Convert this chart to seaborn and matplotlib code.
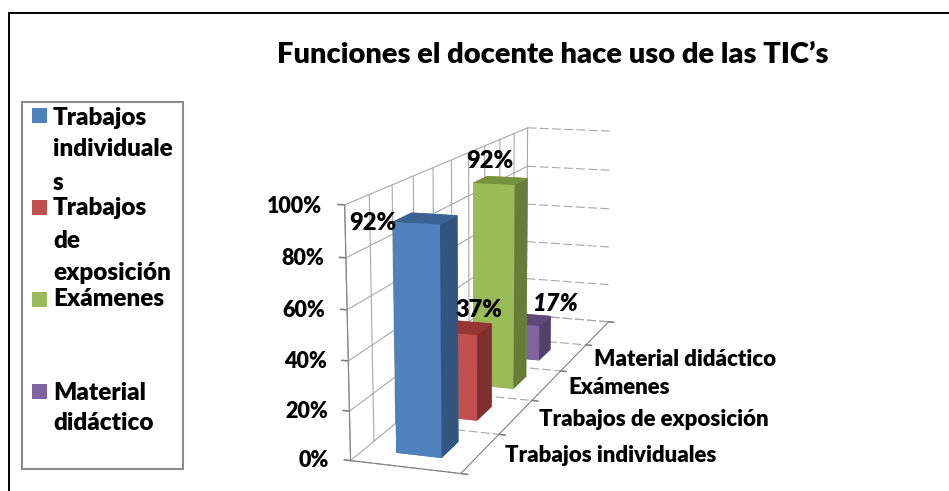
import numpy as np
import seaborn as sns
import matplotlib
matplotlib.use("Agg")
import matplotlib.pyplot as plt
from matplotlib.patches import Rectangle
from matplotlib.lines import Line2D
from mpl_toolkits.mplot3d import proj3d

title = "Funciones el docente hace uso de las TIC’s"
categories = ["Trabajos individuales", "Trabajos de exposición", "Exámenes", "Material didáctico"]
legend_lines = [["Trabajos", "individuale", "s"], ["Trabajos", "de", "exposición"], ["Exámenes"], ["Material", "didáctico"]]
values = [92, 37, 92, 17]
value_ticks = [0, 20, 40, 60, 80, 100]
front_colors = ["#4F81BD", "#C0504D", "#9BBB59", "#8064A2"]
side_colors = ["#34557F", "#7F302E", "#667D38", "#544169"]
top_colors = ["#3A6394", "#953735", "#76923C", "#5F497A"]

sns.set_theme(style="white")
plt.rcParams["font.family"] = ["Lato", "DejaVu Sans"]
WEIGHT = "heavy"
W, H = 949, 491
DEPTH = 5
fig = plt.figure(figsize=(W/100, H/100), dpi=100, facecolor="white")
ax = fig.add_axes([0, 0, 1, 1], projection="3d", computed_zorder=False)
ax.set_axis_off()
ax.patch.set_alpha(0)
ax.set_proj_type("ortho")
ax.set_xlim(0, 1); ax.set_ylim(0, DEPTH); ax.set_zlim(0, 100)

# Camera calibration: the chart box's corners as they lie in the picture
box_corners = [((0, 0, 0), (350, 459)), ((1, 0, 0), (461, 475)), ((1, DEPTH, 0), (608, 320)),
               ((0, DEPTH, 0), (527, 317)), ((0, 0, 100), (345, 205)), ((0, DEPTH, 100), (527, 127)),
               ((1, DEPTH, 100), (613, 132))]
rows_ = []
for (x, y, z), (u, v) in box_corners:
    rows_.append([x, y, z, 1, 0, 0, 0, 0, -u*x, -u*y, -u*z, -u])
    rows_.append([0, 0, 0, 0, x, y, z, 1, -v*x, -v*y, -v*z, -v])
P = np.linalg.svd(np.array(rows_, float))[2][-1].reshape(3, 4)
P = P / P[2, 3]
M = np.array([P[0], P[1], [-0.5, 0.3, -0.005, 2.0], P[2]])
ax.get_proj = lambda: M
ax.apply_aspect = lambda *a, **k: None
ax.viewLim.intervalx = (0, W)
ax.viewLim.intervaly = (H, 0)

GRID = "#a8a8a8"
def ln(xs, ys, zs, **kw):
    kw.setdefault("color", GRID); kw.setdefault("lw", 0.8); kw.setdefault("zorder", 1)
    ax.plot(xs, ys, zs, **kw)

def label3d(x, y, z, s, **kw):
    # a 2D annotation placed at the projected position of a chart-space point
    u, v, _ = proj3d.proj_transform(x, y, z, M)
    ax.annotate(s, xy=(u, v), xycoords="data", fontweight=WEIGHT, color="black", zorder=21, **kw)

for t in value_ticks:
    ln([0, 0], [0, DEPTH], [t, t])
    ln([0, 1], [DEPTH, DEPTH], [t, t], ls=(0, (8, 3)))
    ln([0, -0.06], [0, 0], [t, t], color="#808080", lw=1.2)
    label3d(-0.2, 0, t - 1, f"{t}%", ha="right", va="center", fontsize=15.5)
for d in np.arange(0, DEPTH + 0.25, 0.5):
    ln([0, 0], [d, d], [0, 100])
for d in range(DEPTH + 1):
    ln([0, 1], [d, d], [0, 0], ls=(0, (8, 3)))
    ln([1, 1.06], [d, d], [0, 0], color="#808080", lw=1.2)
ln([1, 1], [0, DEPTH], [0, 0], color="#808080")
ln([0, 0], [0, 0], [0, 100], color="#808080")
ln([0, 1], [0, 0], [0, 0], color="#808080")

bw, bd = 0.42, 0.42
bar_nudge = [0.01, -0.02, 0.01, -0.03]
for i, v in enumerate(values):
    y0 = i + 0.5 - bd/2
    ax.bar3d(0.5 - bw/2 + bar_nudge[i], y0, 0, bw, bd, v,
             color=[top_colors[i], top_colors[i], front_colors[i], front_colors[i], side_colors[i], side_colors[i]],
             shade=False, zorder=10 - i, edgecolor="none", linewidth=0)

label_off = [(-0.47, 0, -3), (0.14, 0, 8), (-0.1, 0, 8.5), (0.3, 0, 9)]
for i, v in enumerate(values):
    dx, dy, dz = label_off[i]
    label3d(0.5 + dx, i + 0.5 + dy, v + dz, f"{v}%", ha="center", va="center", fontsize=17,
            fontstyle="italic" if i == 3 else "normal")
for i, c in enumerate(categories):
    label3d(1.22, i + 0.5, 0, c, ha="left", va="center", fontsize=16)

def px(x, y): return x / W, 1 - y / H
fig.text(*px(553, 55), title, ha="center", va="center", fontsize=21, fontweight=WEIGHT, color="black")

# outer frame: top and left rules only
for (a, b) in [((9, 13), (949, 13)), ((9, 13), (9, 491))]:
    fig.add_artist(Line2D([a[0]/W, b[0]/W], [1-a[1]/H, 1-b[1]/H], color="black", lw=1.4))

# legend
fig.add_artist(Rectangle(px(22, 469), 161/W, 367/H, fc="white", ec="#8c8c8c", lw=1.5))
squares = [108, 200, 292, 384]
rows = [[118, 149, 183], [208, 241, 273], [299], [393, 423]]
for i in range(4):
    fig.add_artist(Rectangle(px(32, squares[i] + 15), 15/W, 15/H, fc=front_colors[i], ec="none"))
    for y, s in zip(rows[i], legend_lines[i]):
        fig.text(*px(53, y), s, ha="left", va="center", fontsize=17.5, fontweight=WEIGHT, color="black")

fig.savefig("out.png", dpi=100)
